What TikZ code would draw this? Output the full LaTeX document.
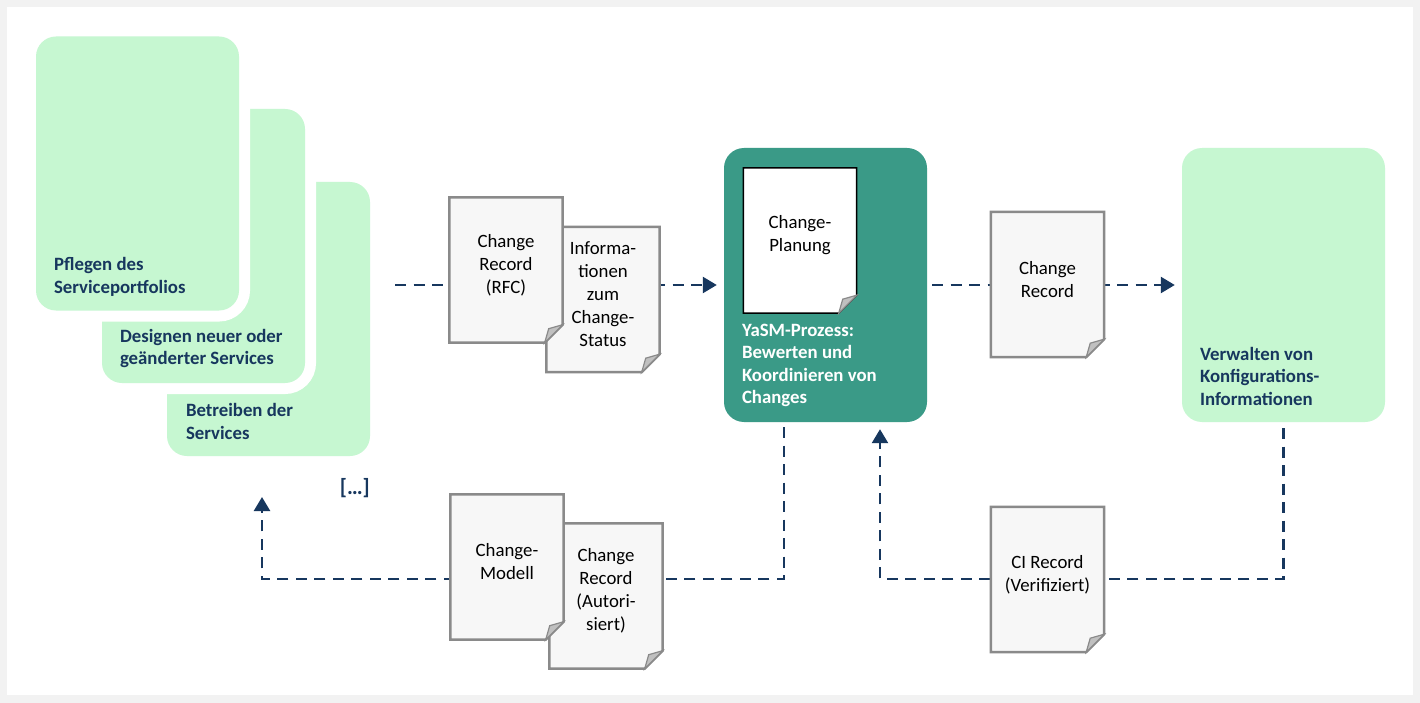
\documentclass[tikz,border=0pt]{standalone}
\usepackage{fontspec}
\setmainfont{Carlito}
\usetikzlibrary{arrows.meta}

\definecolor{framegray}{HTML}{F2F2F2}
\definecolor{stagegreen}{HTML}{C6F7D1}
\definecolor{yasmteal}{HTML}{3A9A87}
\definecolor{navy}{HTML}{17375E}
\definecolor{paperfill}{HTML}{F7F7F7}
\definecolor{paperedge}{HTML}{8A8A8A}
\definecolor{foldgray}{HTML}{C0C0C0}

\newcommand{\docfont}{\fontsize{18.8}{23}\selectfont}
\newcommand{\stagefont}{\fontsize{18.8}{22.5}\selectfont\bfseries}
\newcommand{\fold}{18}

% document symbol: name, position, text
\newcommand{\paper}[4][paperline]{%
  \node[paper] (#2) at (#3) {};
  \filldraw[#1] (#2.north west) -- (#2.north east) -- ([yshift=\fold]#2.south east)
    -- ([xshift=-\fold]#2.south east) -- (#2.south west) -- cycle;
  \filldraw[foldline] ([xshift=-\fold]#2.south east) -- ([yshift=\fold]#2.south east)
    -- ([xshift=-\fold+4,yshift=\fold-4]#2.south east) -- cycle;
  \node[papertext] (#2-t) at ([yshift=5]#2.center) {#4};
}

\begin{document}
\begin{tikzpicture}[x=1pt,y=-1pt,
    stage/.style ={rectangle, rounded corners=20, fill=stagegreen,
      minimum width=203, minimum height=274, inner sep=0,
      preaction={draw=white, line width=22}},
    process/.style ={rectangle, rounded corners=20, fill=yasmteal,
      minimum width=203, minimum height=274, inner sep=0},
    stagetext/.style ={anchor=west, align=left, inner sep=0, text=navy, font=\stagefont},
    paper/.style ={rectangle, minimum width=113, minimum height=145, inner sep=0},
    paperline/.style ={draw=paperedge, line width=2.5, fill=paperfill},
    planline/.style ={draw=black, line width=1.5, fill=white},
    foldline/.style ={draw=paperedge, line width=1.2, fill=foldgray},
    papertext/.style ={align=center, inner sep=0, font=\docfont},
    flow/.style ={draw=navy, line width=2.5, dash pattern=on 11pt off 7.5pt,
      -{Triangle[length=14pt,width=16pt]}}]
   \useasboundingbox (0,0) rectangle (1420,703);
   \fill[framegray] (0,0) rectangle (1420,703);
   \fill[white] (7,7) rectangle (1413,695);

   % stacked service stages
   \node[stage] (betrieb) at (268.5,319) {};
   \node[stagetext] (betrieb-t) at ([xshift=19,yshift=34.5]betrieb.south west) {Betreiben der\\Services};
   \node[stage] (design) at (203.5,246) {};
   \node[stagetext] (design-t) at ([xshift=18,yshift=34.5]design.south west) {Designen neuer oder\\geänderter Services};
   \node[stage] (pflege) at (137.5,173.5) {};
   \node[stagetext] (pflege-t) at ([xshift=18,yshift=34]pflege.south west) {Pflegen des\\Serviceportfolios};
   \node[anchor=east, inner sep=0, text=navy, font=\fontsize{22}{26}\selectfont\bfseries] (weitere) at (370,488) {[…]};

   \node[process] (prozess) at (825.5,285) {};
   \node[stagetext, text=white] (prozess-t) at ([xshift=18,yshift=57]prozess.south west) {YaSM-Prozess:\\Bewerten und\\Koordinieren von\\Changes};
   \paper[planline]{plan}{800,240.5}{Change-\\Planung}

   \node[stage] (konfig) at (1283.5,285) {};
   \node[stagetext] (konfig-t) at ([xshift=18,yshift=46]konfig.south west) {Verwalten von\\Konfigurations-\\Informationen};

   \coordinate (in1) at (395,285);
   \coordinate (ret1) at (784,579);
   \coordinate (back) at (262,497);
   \coordinate (ret2) at (880,579);

   \draw[flow, shorten >=7] (in1) -- (prozess);
   \draw[flow, shorten <=5, shorten >=7] (prozess) -- (konfig);
   \draw[flow, shorten <=5] (ret1 |- prozess.south) -- (ret1) -| (back);
   \draw[flow, shorten <=6, shorten >=7] (konfig.south) |- (ret2) -- (ret2 |- prozess.south);

   % documents on the flows
   \paper{info}{603,299.5}{Informa-\\tionen\\zum\\Change-\\Status}
   \paper{rfc}{506,270}{Change\\Record\\(RFC)}
   \paper{record}{1047.5,284.5}{Change\\Record}
   \paper{autor}{606,596}{Change\\Record\\(Autori-\\siert)}
   \paper{modell}{507,567}{Change-\\Modell}
   \paper{ci}{1047.5,579.5}{CI Record\\(Verifiziert)}
 \end{tikzpicture}
\end{document}
